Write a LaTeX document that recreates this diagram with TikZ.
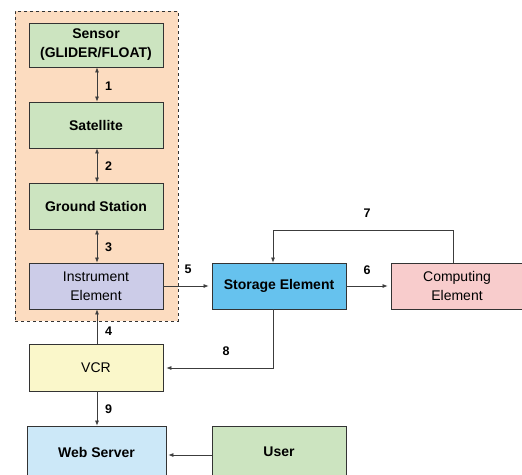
\documentclass[tikz,border=0pt]{standalone}
\usepackage{fontspec}
\setmainfont{Liberation Sans}
\usetikzlibrary{arrows.meta}
\definecolor{cgreen}{RGB}{204,228,192}
\definecolor{cblue}{RGB}{102,194,238}
\definecolor{cpink}{RGB}{248,204,204}
\definecolor{cyellow}{RGB}{250,247,202}
\definecolor{clblue}{RGB}{204,232,248}
\definecolor{clav}{RGB}{204,204,232}
\definecolor{corange}{RGB}{252,220,192}
\definecolor{cline}{RGB}{60,60,60}
\tikzset{
  box/.style={draw=black!80, line width=0.8pt, minimum width=134pt, minimum height=46pt, inner sep=1pt, align=center, font=\fontsize{14}{19}\selectfont},
  bbox/.style={box, font=\fontsize{14}{19}\selectfont\bfseries},
  arr/.style={draw=cline, line width=0.7pt, -{Latex[length=5pt,width=4pt]}},
  darr/.style={draw=cline, line width=0.7pt, {Latex[length=5pt,width=4pt]}-{Latex[length=5pt,width=4pt]}},
  lab/.style={font=\fontsize{12.5}{14}\selectfont\bfseries, inner sep=0pt},
}
\begin{document}
\begin{tikzpicture}[x=1pt,y=-1pt]
\useasboundingbox (0,0) rectangle (522,474);
\clip (0,0) rectangle (522,474);
\fill[white] (0,0) rectangle (522,474);
\node[draw=black!80, dashed, fill=corange, line width=0.6pt, minimum width=163pt, minimum height=310pt, inner sep=0pt] (cont) at (96.5,166) {};
\node[bbox, fill=cgreen, minimum height=44pt] (sensor) at (96,45) {Sensor\\(GLIDER/FLOAT)};
\node[bbox, fill=cgreen] (sat) at (96,125) {Satellite};
\node[bbox, fill=cgreen] (ground) at (96,206) {Ground Station};
\node[box, fill=clav] (instr) at (96,286) {Instrument\\Element};
\node[bbox, fill=cblue] (store) at (279,286) {Storage Element};
\node[box, fill=cpink, minimum width=132pt] (comp) at (457,286) {Computing\\Element};
\node[box, fill=cyellow, minimum height=47pt] (vcr) at (96,367.5) {VCR};
\node[bbox, fill=clblue, minimum width=139pt, minimum height=52pt] (web) at (96.5,452) {Web Server};
\node[bbox, fill=cgreen, minimum height=52pt] (user) at (279,452) {User};

\draw[darr] (sensor.south -| 97,0) -- (sat.north -| 97,0);
\draw[darr] (sat.south -| 97,0) -- (ground.north -| 97,0);
\draw[darr] (ground.south -| 97,0) -- (instr.north -| 97,0);
\draw[arr] (vcr.north -| 97,0) -- (instr.south -| 97,0);
\draw[arr] (vcr.south -| 97,0) -- (web.north -| 97,0);
\draw[arr, shorten >=3pt] (instr.east) -- (store.west);
\draw[arr, shorten >=3pt] (store.east) -- (comp.west);
\coordinate (c7) at (453,230);
\coordinate (s7) at (273,230);
\draw[arr] (comp.north -| c7) -- (c7) -- (s7) -- (store.north -| s7);
\coordinate (c8) at (273,368);
\draw[arr, shorten >=3pt] (store.south -| c8) -- (c8) -- (vcr.east |- c8);
\draw[arr, shorten >=2pt] (user.west |- 0,455) -- (web.east |- 0,455);

\node[lab] (l1) at (108.5,86) {1};
\node[lab] (l2) at (108.5,166) {2};
\node[lab] (l3) at (108.5,247) {3};
\node[lab] (l4) at (108.5,331) {4};
\node[lab] (l5) at (188,269) {5};
\node[lab] (l6) at (367,270) {6};
\node[lab] (l7) at (367,213) {7};
\node[lab] (l8) at (226,351) {8};
\node[lab] (l9) at (108.5,409) {9};
\end{tikzpicture}
\end{document}
